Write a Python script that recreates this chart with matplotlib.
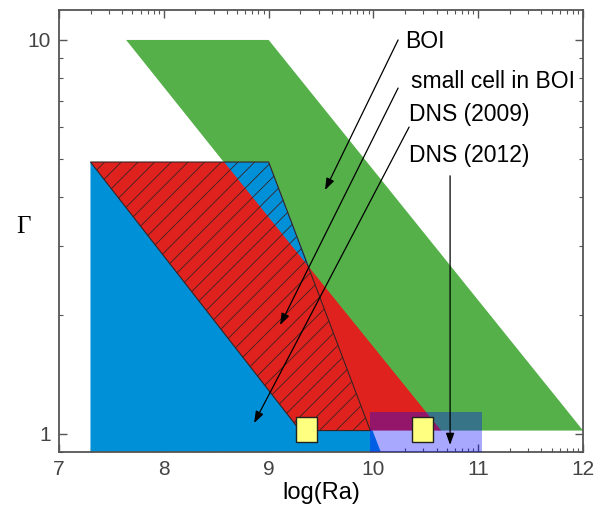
import numpy as np
import matplotlib
matplotlib.use("Agg")
import matplotlib.pyplot as plt
from matplotlib.patches import Polygon, Rectangle
from matplotlib.ticker import FixedLocator, NullFormatter

plt.rcParams['font.family'] = ['Liberation Sans', 'DejaVu Sans']
plt.rcParams['hatch.linewidth'] = 0.6

# ---- data (log(Ra), Gamma) ----
boi_x = [7.64, 9.00, 12.00, 10.62]
boi_g = [10.0, 10.0, 1.02, 1.02]

dns2009_x = [7.30, 7.30, 9.00, 10.07]
dns2009_g = [0.90, 4.90, 4.90, 0.90]

red_x = [7.30, 8.575, 10.645, 9.30]
red_g = [4.90, 4.90, 1.02, 1.02]

small_x = [7.30, 9.00, 9.97, 9.30]
small_g = [4.90, 4.90, 1.02, 1.02]

dns2012_ra = [9.97, 11.04]
dns2012_g = [0.90, 1.14]

square_ra = [9.36, 10.46]
square_g = [1.03, 1.03]

labels = ["BOI", "small cell in BOI", "DNS (2009)", "DNS (2012)"]
label_pos = [(10.30, 9.54), (10.36, 7.55), (10.34, 6.23), (10.34, 4.90)]
arrow_tail = [(10.235, 10.0), (10.235, 7.55), (10.34, 6.01), (10.731, 4.52)]
arrow_head = [(9.538, 4.16), (9.109, 1.89), (8.861, 1.066), (10.731, 0.938)]

xticks = [7, 8, 9, 10, 11, 12]

# ---- figure ----
fig = plt.figure(figsize=(5.95, 5.09), dpi=100)
ax = fig.add_axes([0.0992, 0.112, 0.8808, 0.868])
ax.set_yscale('log')
ax.set_xlim(7, 12)
ax.set_ylim(0.9, 11.9)
ax.set_axisbelow(True)

ax.add_patch(Polygon(list(zip(boi_x, boi_g)), closed=True, facecolor='#55B04A',
                     edgecolor='none', zorder=1))
ax.add_patch(Polygon(list(zip(dns2009_x, dns2009_g)), closed=True, facecolor='#0090D8',
                     edgecolor='none', zorder=2))
ax.add_patch(Polygon(list(zip(red_x, red_g)), closed=True, facecolor='#E0221E',
                     edgecolor='none', zorder=3))
ax.add_patch(Polygon(list(zip(small_x, small_g)), closed=True, facecolor='none',
                     edgecolor='#3a2222', hatch='//', linewidth=0.8, zorder=4))
ax.add_patch(Rectangle((dns2012_ra[0], dns2012_g[0]), dns2012_ra[1] - dns2012_ra[0],
                       dns2012_g[1] - dns2012_g[0], facecolor=(0.0, 0.0, 1.0, 0.34),
                       edgecolor='none', zorder=5))

sq = [(-21, -25), (21, -25), (21, 25), (-21, 25), (-21, -25)]
ax.plot(square_ra, square_g, linestyle='none', marker=sq, markersize=18,
        markerfacecolor='#FFFF80', markeredgecolor='#222222', markeredgewidth=1.0,
        zorder=6)

for txt, pos in zip(labels, label_pos):
    ax.text(pos[0], pos[1], txt, fontsize=16.5, ha='left', va='baseline',
            color='black', zorder=8)
for t, h in zip(arrow_tail, arrow_head):
    ax.annotate('', xy=h, xytext=t,
                arrowprops=dict(arrowstyle='-|>,head_length=0.7,head_width=0.25',
                                color='black', lw=0.9, shrinkA=0, shrinkB=0),
                zorder=7)

# ---- ticks ----
ax.set_xticks(xticks, [str(v) for v in xticks])
minor = [n + np.log10(k) for n in range(7, 12) for k in range(2, 10)]
ax.xaxis.set_minor_locator(FixedLocator(minor))
ax.set_yticks([1, 10], ['1', '10'])
ax.yaxis.set_minor_locator(FixedLocator([k * 10.0 ** e for e in (-1, 0, 1)
                                         for k in range(1, 10)]))
ax.yaxis.set_minor_formatter(NullFormatter())
ax.tick_params(which='both', direction='in', top=True, right=True,
               color='#555555', labelcolor='#444444', labelsize=15)
ax.tick_params(which='major', length=6, width=1.0, pad=6)
ax.tick_params(which='minor', length=3, width=0.8)
for s in ax.spines.values():
    s.set_color('#555555')
    s.set_linewidth(1.3)

ax.set_xlabel('log(Ra)', fontsize=17, labelpad=2)
fig.text(0.039, 1 - 227 / 509, 'Γ', fontsize=18, family=['Liberation Serif', 'DejaVu Serif'],
         ha='center', va='center')

fig.savefig('out.png', dpi=100)
